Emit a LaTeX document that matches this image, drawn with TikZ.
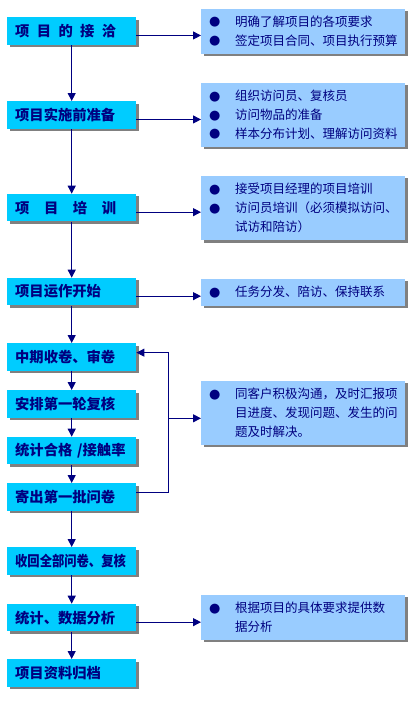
\documentclass[tikz,border=0pt]{standalone}
\usepackage{fontspec}
\usepackage{graphicx}
\setmainfont{Noto Sans CJK SC}
\newfontfamily\dejavu{DejaVu Sans}
\usetikzlibrary{arrows.meta,shadows}
\definecolor{navy}{RGB}{0,0,128}
\definecolor{cyanbox}{RGB}{0,204,255}
\definecolor{lightbox}{RGB}{153,204,255}
\definecolor{shadowgray}{RGB}{128,128,128}
\newcommand{\bul}{\makebox[26pt][l]{\raisebox{0.3pt}{\dejavu\fontsize{13}{13}\selectfont ●}}}
\newcommand{\ind}{\hspace*{26pt}}
\tikzset{
  lbox/.style={fill=cyanbox, anchor=north west, minimum width=129pt, minimum height=27.5pt,
    text width=113pt, inner xsep=8pt, inner ysep=0pt, align=left,
    font=\fontsize{14.3}{16}\selectfont\bfseries, text=navy,
    general shadow={fill=shadowgray, shadow xshift=2.5pt, shadow yshift=-2.5pt}},
  rbox/.style={fill=lightbox, anchor=north west, minimum width=204pt,
    text width=188pt, inner xsep=8pt, inner ysep=0pt, align=left,
    font=\fontsize{12.5}{18.8}\selectfont, text=navy,
    general shadow={fill=shadowgray, shadow xshift=2.5pt, shadow yshift=-2.5pt}},
  arr/.style={draw=navy, line width=1pt, -{Triangle[length=8pt,width=8pt]}}
}
\begin{document}
\begin{tikzpicture}[x=1pt,y=-1pt]
\useasboundingbox (0,0) rectangle (412,724);
% left boxes
\node[lbox] (l1) at (7,17) {\makebox[101pt][s]{项\hfill 目\hfill 的\hfill 接\hfill 洽}};
\node[lbox] (l2) at (7,101) {项目实施前准备};
\node[lbox] (l3) at (7,193.7) {\makebox[101pt][s]{项\hfill 目\hfill 培\hfill 训}};
\node[lbox] (l4) at (7,277.7) {项目运作开始};
\node[lbox] (l5) at (7,343) {中期收卷、审卷};
\node[lbox] (l6) at (7,390) {安排第一轮复核};
\node[lbox] (l7) at (7,436.7) {统计合格 /接触率};
\node[lbox] (l8) at (7,483) {寄出第一批问卷};
\node[lbox] (l9) at (7,547) {\scalebox{0.86}[1]{收回全部问卷、复核}};
\node[lbox] (l10) at (7,603.7) {统计、数据分析};
\node[lbox] (l11) at (7,659) {项目资料归档};
% right boxes
\node[rbox, minimum height=45pt] (r1) at (201,8.3) {\bul 明确了解项目的各项要求\\\bul 签定项目合同、项目执行预算};
\node[rbox, minimum height=64.4pt] (r2) at (201,82.3) {\bul 组织访问员、复核员\\\bul 访问物品的准备\\\bul 样本分布计划、理解访问资料};
\node[rbox, minimum height=64.7pt] (r3) at (201,175.3) {\bul 接受项目经理的项目培训\\\bul 访问员培训（必须模拟访问、\\\ind 试访和陪访）};
\node[rbox, minimum height=27pt] (r4) at (201,278.3) {\bul 任务分发、陪访、保持联系};
\node[rbox, minimum height=64.4pt] (r5) at (201,380.3) {\bul 同客户积极沟通，及时汇报项\\\ind 目进度、发现问题、发生的问\\\ind 题及时解决。};
\node[rbox, minimum height=45pt] (r6) at (201,594.3) {\bul 根据项目的具体要求提供数\\\ind 据分析};
% vertical arrows
\draw[arr] (l1.south) -- (l2.north);
\draw[arr] (l2.south) -- (l3.north);
\draw[arr] (l3.south) -- (l4.north);
\draw[arr] (l4.south) -- (l5.north);
\draw[arr] (l5.south) -- (l6.north);
\draw[arr] (l6.south) -- (l7.north);
\draw[arr] (l7.south) -- (l8.north);
\draw[arr] (l8.south) -- (l9.north);
\draw[arr] (l9.south) -- (l10.north);
\draw[arr] (l10.south) -- (l11.north);
% horizontal arrows
\draw[arr] ([yshift=-4.5pt]l1.east) -- ([yshift=-4.5pt]l1.east -| r1.west);
\draw[arr] ([yshift=-4.5pt]l2.east) -- ([yshift=-4.5pt]l2.east -| r2.west);
\draw[arr] ([yshift=-4.5pt]l3.east) -- ([yshift=-4.5pt]l3.east -| r3.west);
\draw[arr] ([yshift=-4.5pt]l4.east) -- ([yshift=-4.5pt]l4.east -| r4.west);
\draw[arr] ([yshift=-4.5pt]l10.east) -- ([yshift=-4.5pt]l10.east -| r6.west);
% feedback loop
\coordinate (lx) at (168.3,0);
\coordinate (br) at (168.3,418.3);
\draw[arr] ([yshift=4.2pt]l8.east) -| ([yshift=4.3pt]lx |- l5.east) -- ([yshift=4.3pt]l5.east);
\draw[arr] (br) -- (br -| r5.west);
\end{tikzpicture}
\end{document}
